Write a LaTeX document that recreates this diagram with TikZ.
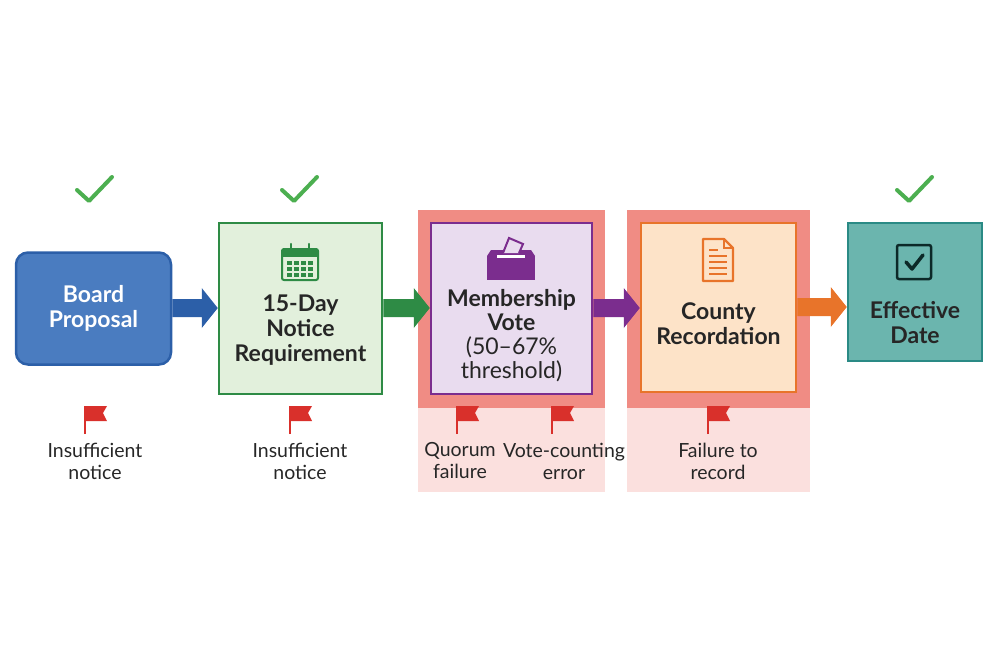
\documentclass[tikz,border=0pt]{standalone}
\usepackage{fontspec}
\setmainfont{Lato}
\usetikzlibrary{calc}
\begin{document}
\begin{tikzpicture}[x=1pt,y=-1pt,
  box/.style={draw,line width=2.5pt,align=center,font=\bfseries\fontsize{23}{25}\selectfont,text=black!85},
  lbl/.style={align=center,font=\fontsize{19.5}{22}\selectfont,text=black!85},
  chk/.style={line width=4pt,line cap=round,line join=round}]
\definecolor{bluef}{HTML}{4A7CC0}\definecolor{blued}{HTML}{2C5FA8}
\definecolor{greenf}{HTML}{E2F0DC}\definecolor{greend}{HTML}{2E8B45}
\definecolor{purf}{HTML}{E9DCEF}\definecolor{purd}{HTML}{7B2D8E}
\definecolor{oraf}{HTML}{FDE3C8}\definecolor{orad}{HTML}{E8742A}
\definecolor{tealf}{HTML}{6BB5AE}\definecolor{teald}{HTML}{2A8A85}
\definecolor{redhi}{HTML}{F08C84}\definecolor{redlo}{HTML}{FBE0DE}
\definecolor{flagc}{HTML}{D9302B}\definecolor{chkc}{HTML}{4CAF50}
\useasboundingbox (0,0) rectangle (1000,667);
% risk highlights
\fill[redlo] (418,408) rectangle (605,492);
\fill[redhi] (418,210) rectangle (605,408);
\fill[redlo] (627,408) rectangle (810,492);
\fill[redhi] (627,210) rectangle (810,408);
% boxes
\node[box,rounded corners=12pt,draw=blued,fill=bluef,text=white,minimum width=155pt,minimum height=112pt] (b1) at (93.5,308.5) {Board\\Proposal};
\node[box,draw=greend,fill=greenf,minimum width=163pt,minimum height=171pt] (b2) at (300.5,308.5) {};
\node[box,draw=purd,fill=purf,minimum width=161pt,minimum height=171pt] (b3) at (511.5,308.5) {};
\node[box,draw=orad,fill=oraf,minimum width=155pt,minimum height=169pt] (b4) at (718.5,307.5) {};
\node[box,draw=teald,fill=tealf,minimum width=134pt,minimum height=138pt] (b5) at (915,292) {};
\node[box,draw=none] (t2) at (300.5,330) {15-Day\\Notice\\Requirement};
\node[box,draw=none,font=\fontsize{23}{24}\selectfont] (t3) at (511.5,336) {\textbf{Membership}\\\textbf{Vote}\\(50–67\%\\threshold)};
\node[box,draw=none] (t4) at (718.5,324) {County\\Recordation};
\node[box,draw=none] (t5) at (915,323) {Effective\\Date};
% arrows
\foreach \a/\b/\c in {b1/b2/blued,b2/b3/greend,b3/b4/purd,b4/b5/orad}{
  \path (\a.east) ++(0,-0.5) coordinate (s) (\b.west |- s) coordinate (e);
  \fill[\c] ($(s)+(0,-9)$) -- ($(e)+(-16,-9)$) -- ($(e)+(-16,-20)$) -- (e) -- ($(e)+(-16,20)$) -- ($(e)+(-16,9)$) -- ($(s)+(0,9)$) -- cycle;
}
% checks
\foreach \x in {95,300,915}{\draw[chk,draw=chkc] (\x-18,190) -- (\x-6,201) -- (\x+17,177);}
% calendar icon
\begin{scope}[shift={(300,263)}]
\draw[greend,line width=2pt,rounded corners=2pt] (-18,-14) rectangle (18,17);
\fill[greend] (-18,-14) rectangle (18,-6);
\draw[greend,line width=2.5pt,line cap=round] (-9,-19) -- (-9,-11) (9,-19) -- (9,-11);
\foreach \i in {-1,0,1,2}{\foreach \j in {0,1,2}{\fill[greend] (-13+\i*7+7,-2+\j*6) rectangle ++(4.5,4);}}
\end{scope}
% ballot box
\begin{scope}[shift={(511,258)}]
\fill[purd] (-24,-2) rectangle (24,22);
\fill[purd] (-20,-8) -- (20,-8) -- (24,-2) -- (-24,-2) -- cycle;
\fill[white] (-14,-3) rectangle (14,0);
\draw[purd,line width=2pt,fill=purf] (-8,-5) -- (-2,-20) -- (12,-14) -- (8,-5);
\end{scope}
% document icon
\begin{scope}[shift={(718,260)}]
\draw[orad,line width=2.2pt,line join=round] (-15,-21) -- (6,-21) -- (15,-12) -- (15,21) -- (-15,21) -- cycle;
\draw[orad,line width=1.8pt] (6,-21) -- (6,-12) -- (15,-12);
\foreach \y in {-4,2,8,14}{\draw[orad,line width=1.6pt] (-9,\y) -- (9,\y);}
\draw[orad,line width=1.6pt] (-9,-10) -- (0,-10);
\end{scope}
% checkbox icon
\begin{scope}[shift={(914,262)}]
\draw[black!70!teald,line width=2.5pt,rounded corners=2pt] (-17,-17) rectangle (17,17);
\draw[black!70!teald,line width=3.5pt,line cap=round,line join=round] (-8,0) -- (-2,7) -- (9,-7);
\end{scope}
% flags
\foreach \x in {95,300,467,562,718}{
  \draw[flagc,line width=2pt] (\x-10,434) -- (\x-10,406);
  \fill[flagc] (\x-9,406) -- (\x+12,406) -- (\x+8,413) -- (\x+12,421) -- (\x-9,421) -- cycle;
}
\node[lbl] (l1) at (95,461) {Insufficient\\notice};
\node[lbl] (l2) at (300,461) {Insufficient\\notice};
\node[lbl] (l3) at (460,461) {Quorum\\failure};
\node[lbl] (l4) at (564,461) {Vote-counting\\error};
\node[lbl] (l5) at (718,461) {Failure to\\record};
\end{tikzpicture}
\end{document}
